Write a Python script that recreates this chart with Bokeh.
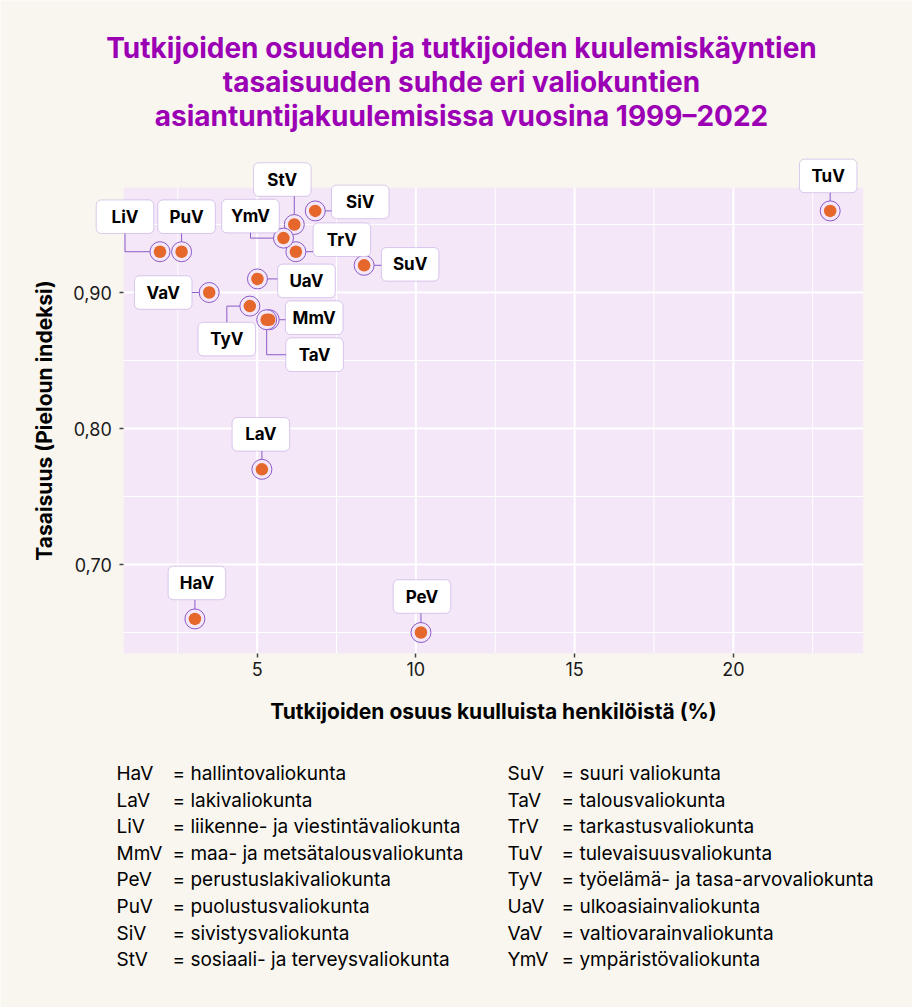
from bokeh.plotting import figure
from bokeh.models import (FixedTicker, CustomJSTickFormatter, Label, LabelSet,
                          ColumnDataSource, BoxAnnotation, Range1d)
from bokeh.core.properties import value
from bokeh.embed import file_html
from bokeh.resources import INLINE

# ---------------- data ----------------
abbr = ["HaV", "LaV", "LiV", "MmV", "PeV", "PuV", "SiV", "StV",
        "SuV", "TaV", "TrV", "TuV", "TyV", "UaV", "VaV", "YmV"]
share = [3.04, 5.15, 1.94, 5.38, 10.16, 2.62, 6.83, 6.17,
         8.37, 5.30, 6.22, 23.05, 4.77, 5.01, 3.49, 5.83]
evenness = [0.66, 0.77, 0.93, 0.88, 0.65, 0.93, 0.96, 0.95,
            0.92, 0.88, 0.93, 0.96, 0.89, 0.91, 0.90, 0.94]
names = ["hallintovaliokunta", "lakivaliokunta", "liikenne- ja viestintävaliokunta",
         "maa- ja metsätalousvaliokunta", "perustuslakivaliokunta", "puolustusvaliokunta",
         "sivistysvaliokunta", "sosiaali- ja terveysvaliokunta", "suuri valiokunta",
         "talousvaliokunta", "tarkastusvaliokunta", "tulevaisuusvaliokunta",
         "työelämä- ja tasa-arvovaliokunta", "ulkoasiainvaliokunta",
         "valtiovarainvaliokunta", "ympäristövaliokunta"]
x_ticks = [5, 10, 15, 20]
x_minor = [2.5, 7.5, 12.5, 17.5, 22.5]
y_ticks = [0.70, 0.80, 0.90]
y_minor = [0.65, 0.75, 0.85, 0.95]
title_lines = ["Tutkijoiden osuuden ja tutkijoiden kuulemiskäyntien",
               "tasaisuuden suhde eri valiokuntien",
               "asiantuntijakuulemisissa vuosina 1999–2022"]
x_title = "Tutkijoiden osuus kuulluista henkilöistä (%)"
y_title = "Tasaisuus (Pieloun indeksi)"

# ---------------- layout (label offsets in px, elbow mode) ----------------
label_layout = {
    "LiV": (-35, -35, "h"), "PuV": (5, -35, "v"), "StV": (-12, -45, "v"),
    "YmV": (-33, -22, "h"), "SiV": (45, -9, "h"), "TrV": (46, -12, "h"),
    "SuV": (46, -1, "h"), "UaV": (49, 2, "h"), "VaV": (-46, 0, "h"),
    "MmV": (45, -2, "h"), "TyV": (-23, 33, "h"), "TaV": (48, 35, "v"),
    "LaV": (-1, -35, "v"), "HaV": (2, -36, "v"), "PeV": (1, -36, "v"),
    "TuV": (-2, -35, "v"),
}

PAGE_BG = "#f9f6ef"
PANEL_BG = "#f4e7f8"
PURPLE = "#8b5cc9"
ORANGE = "#e5672c"
TITLE_C = "#9b00b5"
FONT = "Inter"

W, H = 912, 1007
# panel placement on the canvas (px) and its data extent
PL, PR, PT, PB = 123.3, 862.7, 187.3, 652.7
X0, X1 = 0.80, 24.09
Y0, Y1 = 0.6348, 0.977
SX = (PR - PL) / (X1 - X0)
SY = (PB - PT) / (Y1 - Y0)


def px_to_data(px, py):
    return X0 + (px - PL) / SX, Y1 - (py - PT) / SY


p = figure(width=W, height=H,
           x_range=Range1d(X0 - PL / SX, X0 + (W - PL) / SX),
           y_range=Range1d(Y1 - (H - PT) / SY, Y1 + PT / SY),
           output_backend="svg", toolbar_location=None,
           min_border=0, min_border_left=0, min_border_right=0,
           min_border_top=0, min_border_bottom=0)
p.background_fill_color = PAGE_BG
p.border_fill_color = PAGE_BG
p.outline_line_color = None
p.grid.visible = False

# panel + grid
p.quad(left=[X0], right=[X1], bottom=[Y0], top=[Y1], fill_color=PANEL_BG, line_color=None)
p.segment(x0=x_minor, x1=x_minor, y0=[Y0] * len(x_minor), y1=[Y1] * len(x_minor),
          line_color="white", line_width=1)
p.segment(x0=[X0] * len(y_minor), x1=[X1] * len(y_minor), y0=y_minor, y1=y_minor,
          line_color="white", line_width=1)
p.segment(x0=x_ticks, x1=x_ticks, y0=[Y0] * len(x_ticks), y1=[Y1] * len(x_ticks),
          line_color="white", line_width=2)
p.segment(x0=[X0] * len(y_ticks), x1=[X1] * len(y_ticks), y0=y_ticks, y1=y_ticks,
          line_color="white", line_width=2)

# axes, fixed at the panel edges
p.xaxis.ticker = FixedTicker(ticks=x_ticks, minor_ticks=[])
p.yaxis.ticker = FixedTicker(ticks=y_ticks, minor_ticks=[])
p.yaxis.formatter = CustomJSTickFormatter(code="return tick.toFixed(2).replace('.', ',');")
p.xaxis.fixed_location = Y0
p.yaxis.fixed_location = X0
p.xaxis.bounds = (X0, X1)
p.yaxis.bounds = (Y0, Y1)
for ax in (p.xaxis, p.yaxis):
    ax.axis_line_color = None
    ax.major_tick_out = 4
    ax.major_tick_in = 0
    ax.major_tick_line_color = "#444444"
    ax.major_tick_line_width = 1.5
    ax.minor_tick_line_color = None
    ax.major_label_text_font = FONT
    ax.major_label_text_font_size = "18px"
    ax.major_label_text_color = "#1a1a1a"
    ax.axis_label_text_font = FONT
    ax.axis_label_text_font_style = "bold"
    ax.axis_label_text_font_size = "21px"
    ax.axis_label_text_color = "black"
p.xaxis.axis_label = x_title
p.yaxis.axis_label = y_title
p.xaxis.major_label_standoff = 5
p.yaxis.major_label_standoff = 8
p.xaxis.axis_label_standoff = 19
p.yaxis.axis_label_standoff = 13

# connectors
xs, ys, lx, ly = [], [], [], []
for a, x, y in zip(abbr, share, evenness):
    dx, dy, mode = label_layout[a]
    cx, cy = x + dx / SX, y - dy / SY
    lx.append(cx)
    ly.append(cy)
    if mode == "h":
        xs.append([x, cx, cx]); ys.append([y, y, cy])
    else:
        xs.append([x, x, cx]); ys.append([y, cy, cy])
p.multi_line(xs, ys, line_color=PURPLE, line_width=1)

src = ColumnDataSource(dict(x=share, y=evenness, a=abbr))
p.scatter("x", "y", source=src, size=20, fill_color=PANEL_BG, line_color=PURPLE, line_width=1)
p.scatter("x", "y", source=src, size=12.5, fill_color=ORANGE, line_color=None)

# label boxes
BW, BH = 57.5, 33.5
for cx, cy in zip(lx, ly):
    p.add_layout(BoxAnnotation(left=cx - BW / 2 / SX, right=cx + BW / 2 / SX,
                               bottom=cy - BH / 2 / SY, top=cy + BH / 2 / SY,
                               fill_color="white", fill_alpha=1.0,
                               line_color=PURPLE, line_width=1, border_radius=5))
lsrc = ColumnDataSource(dict(x=lx, y=ly, t=abbr))
p.add_layout(LabelSet(x="x", y="y", text="t", source=lsrc, text_align="center",
                      text_baseline="middle", text_font=value(FONT),
                      text_font_style="bold", text_font_size="17px", text_color="black"))

# title
for i, line in enumerate(title_lines):
    tx, ty = px_to_data(461, 47.3 + i * 34.0)
    p.add_layout(Label(x=tx, y=ty, text=line, text_align="center",
                       text_baseline="middle", text_font=FONT,
                       text_font_style="bold", text_font_size="28px", text_color=TITLE_C))

# legend
half = (len(abbr) + 1) // 2
for i, (a, n) in enumerate(zip(abbr, names)):
    col, row = divmod(i, half)
    ax_px = 116 if col == 0 else 507
    eq_px = 172 if col == 0 else 561
    yy = 773 + row * 26.6
    x1, y1 = px_to_data(ax_px, yy)
    x2, _ = px_to_data(eq_px, yy)
    p.add_layout(Label(x=x1, y=y1, text=a, text_align="left", text_baseline="middle",
                       text_font=FONT, text_font_size="19px", text_color="black"))
    p.add_layout(Label(x=x2, y=y1, text="= " + n, text_align="left", text_baseline="middle",
                       text_font=FONT, text_font_size="19px", text_color="black"))

open("out.html", "w").write(file_html(p, INLINE))
